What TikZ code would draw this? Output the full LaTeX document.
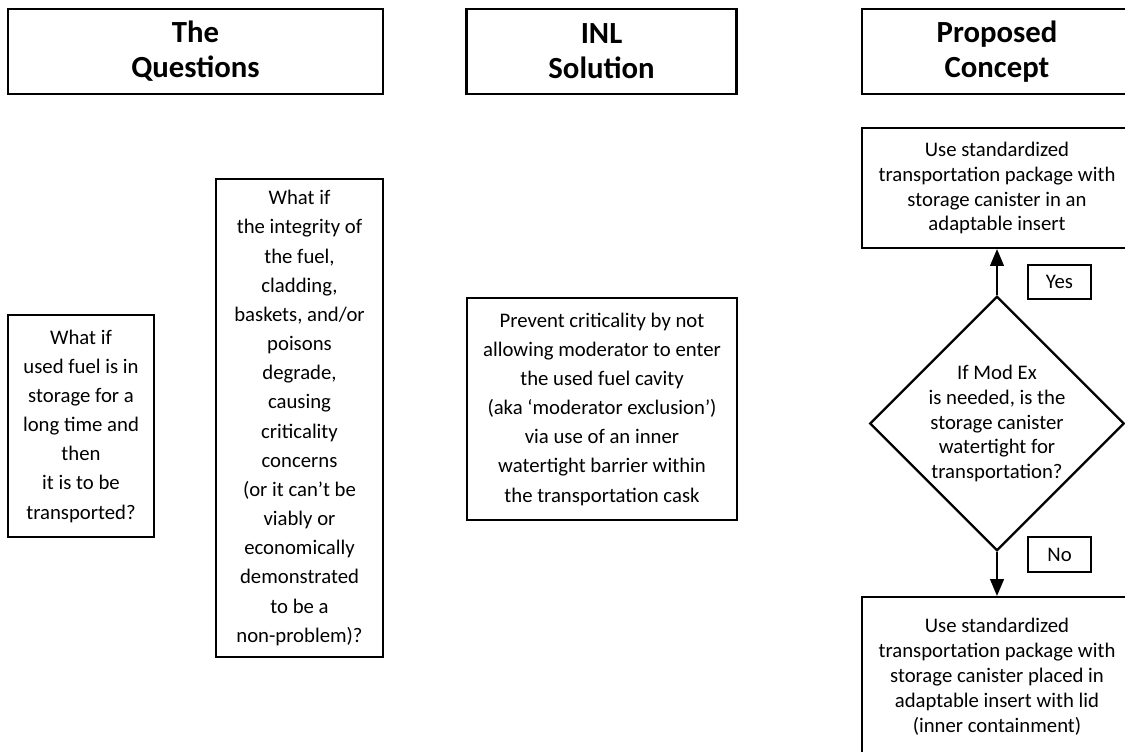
\documentclass[tikz,border=0pt]{standalone}
\usepackage{fontspec}
\setmainfont{Carlito}
\usetikzlibrary{arrows}
\usetikzlibrary{shapes.geometric}

\begin{document}
\begin{tikzpicture}[x=0.02cm, y=-0.02cm, box/.style={rectangle, draw, line width=1.3pt, inner sep=0pt, align=center, font=\fontsize{11.8}{16.6}\selectfont}]
    \tikzset{head/.style={box, line width=1.6pt, minimum height=1.7cm, font=\fontsize{17.5}{19.9}\selectfont\bfseries}}
    \tikzset{flow/.style={box, font=\fontsize{11.8}{14.2}\selectfont}}
    \useasboundingbox (0,0) rectangle (1125,751);
    \def \colw {5.4cm}

    \node[head, minimum width=7.5cm] (h1) at (195.5,51.5) {The\\Questions};
    \node[head, minimum width=\colw] (h2) at (601.5,51.5) {INL\\Solution};
    \node[head, minimum width=\colw] (h3) at (997,51.5) {Proposed\\Concept};

    \node[box, minimum width=2.92cm, minimum height=4.44cm] (q1) at (81,426) {What if\\used fuel is in\\storage for a\\long time and\\then\\it is to be\\transported?};
    \node[box, minimum width=3.34cm, minimum height=9.56cm] (q2) at (299.5,418) {What if\\the integrity of\\the fuel,\\cladding,\\baskets, and/or\\poisons\\degrade,\\causing\\criticality\\concerns\\(or it can’t be\\viably or\\economically\\demonstrated\\to be a\\non-problem)?};

    \node[box, minimum width=\colw, minimum height=4.44cm] (sol) at (602,409) {Prevent criticality by not\\allowing moderator to enter\\the used fuel cavity\\(aka ‘moderator exclusion’)\\via use of an inner\\watertight barrier within\\the transportation cask};

    % right column: decision between the two packages
    \node[flow, minimum width=\colw, minimum height=2.4cm] (use1) at (997,188) {Use standardized\\transportation package with\\storage canister in an\\adaptable insert};
    \node[flow, diamond, minimum width=5.04cm, minimum height=4.98cm] (dec) at (997,423.5) {If Mod Ex\\is needed, is the\\storage canister\\watertight for\\transportation?};
    \node[flow, minimum width=\colw, minimum height=3.18cm] (use2) at (997,676.5) {Use standardized\\transportation package with\\storage canister placed in\\adaptable insert with lid\\(inner containment)};
    \node[flow, minimum width=1.26cm, minimum height=0.68cm] (yes) at (1059.5,282) {Yes};
    \node[flow, minimum width=1.26cm, minimum height=0.7cm] (no) at (1059.5,554.5) {No};

    \draw[>=triangle 45, line width=1.2pt, ->] (dec) -- (use1);
    \draw[>=triangle 45, line width=1.2pt, ->] (dec) -- (use2);
\end{tikzpicture}
\end{document}
